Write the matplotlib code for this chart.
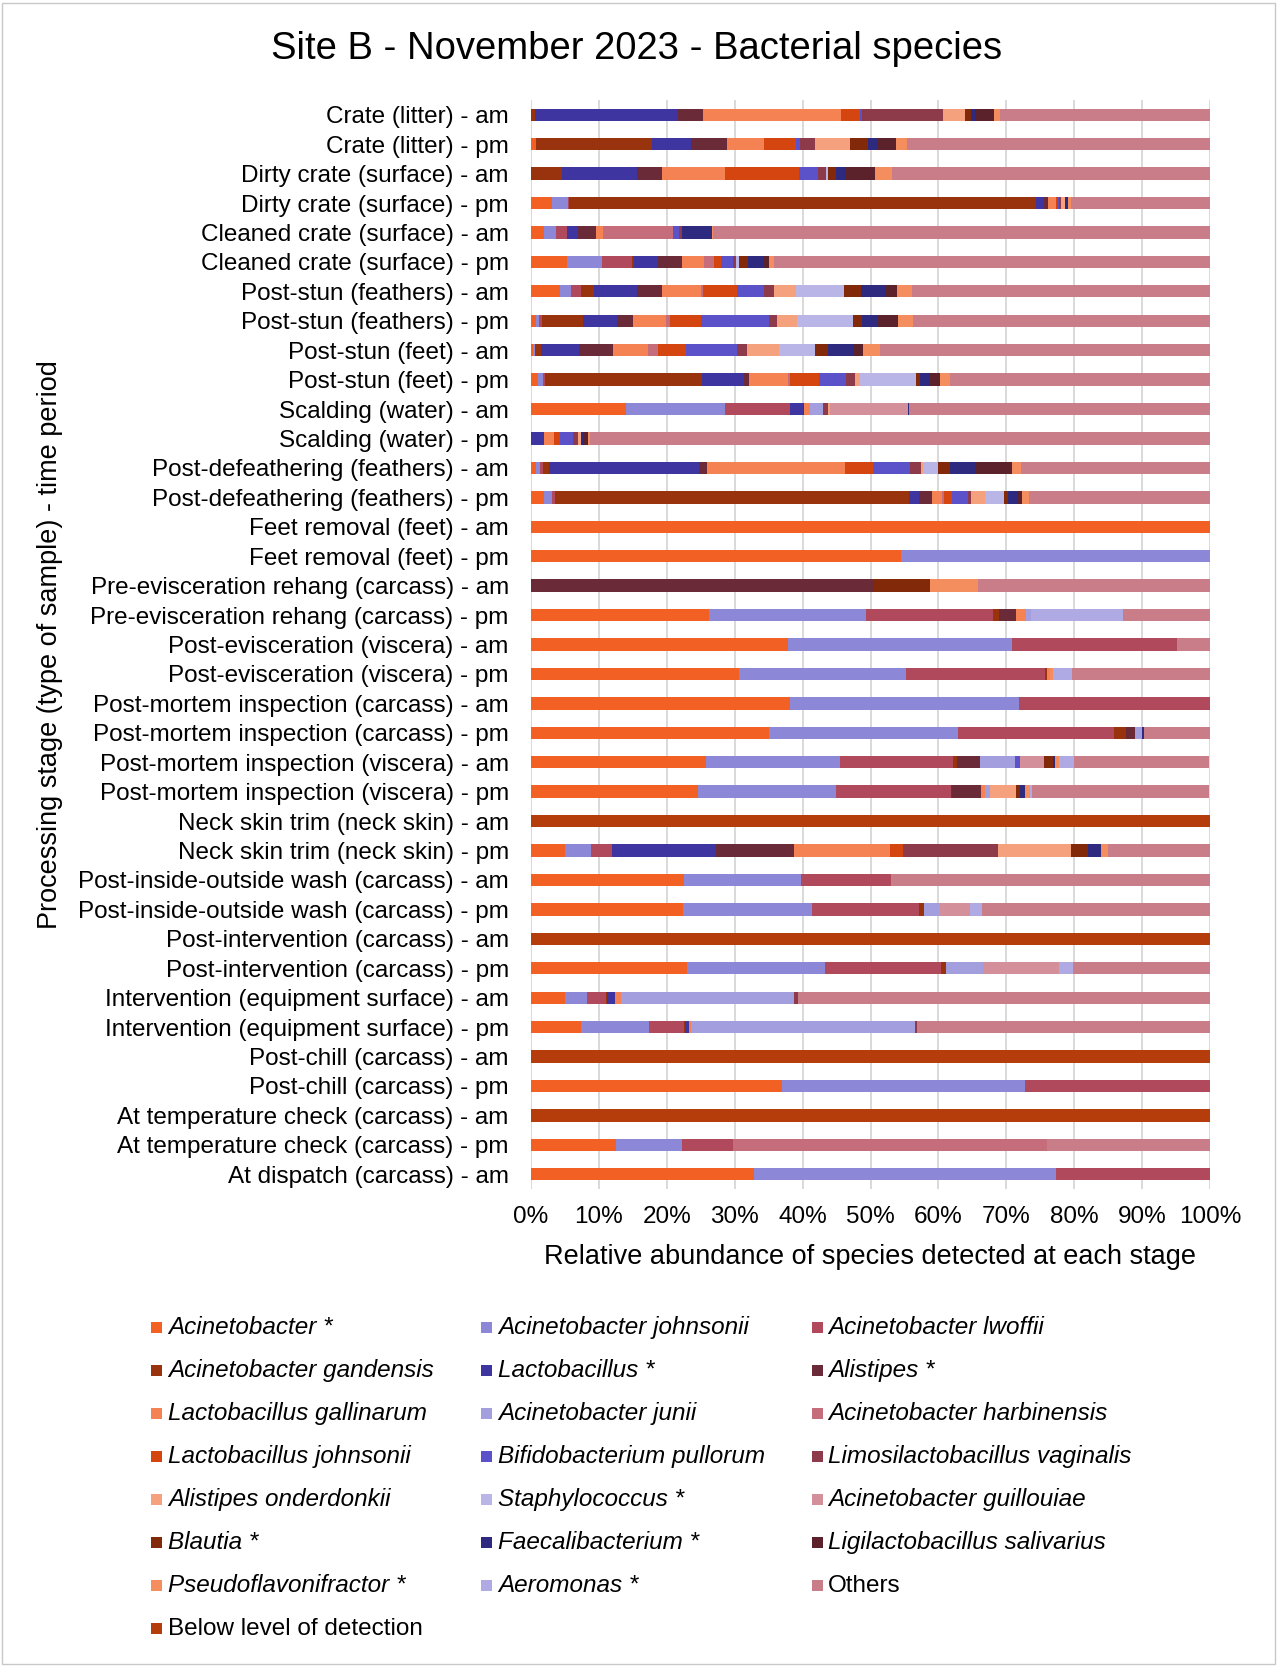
import numpy as np
import matplotlib
matplotlib.use("Agg")
import matplotlib.pyplot as plt
from matplotlib.patches import Rectangle

plt.rcParams['font.family'] = ['Liberation Sans', 'DejaVu Sans']

categories = [
    "Crate (litter) - am", "Crate (litter) - pm",
    "Dirty crate (surface) - am", "Dirty crate (surface) - pm",
    "Cleaned crate (surface) - am", "Cleaned crate (surface) - pm",
    "Post-stun (feathers) - am", "Post-stun (feathers) - pm",
    "Post-stun (feet) - am", "Post-stun (feet) - pm",
    "Scalding (water) - am", "Scalding (water) - pm",
    "Post-defeathering (feathers) - am", "Post-defeathering (feathers) - pm",
    "Feet removal (feet) - am", "Feet removal (feet) - pm",
    "Pre-evisceration rehang (carcass) - am", "Pre-evisceration rehang (carcass) - pm",
    "Post-evisceration (viscera) - am", "Post-evisceration (viscera) - pm",
    "Post-mortem inspection (carcass) - am", "Post-mortem inspection (carcass) - pm",
    "Post-mortem inspection (viscera) - am", "Post-mortem inspection (viscera) - pm",
    "Neck skin trim (neck skin) - am", "Neck skin trim (neck skin) - pm",
    "Post-inside-outside wash (carcass) - am", "Post-inside-outside wash (carcass) - pm",
    "Post-intervention (carcass) - am", "Post-intervention (carcass) - pm",
    "Intervention (equipment surface) - am", "Intervention (equipment surface) - pm",
    "Post-chill (carcass) - am", "Post-chill (carcass) - pm",
    "At temperature check (carcass) - am", "At temperature check (carcass) - pm",
    "At dispatch (carcass) - am",
]

# values per series, one per row (same order as categories), in %
acinetobacter = [0, 0.8, 0, 3.1, 1.85, 5.3, 4.3, 0.8, 0.35, 1.0, 13.95, 0, 0.8, 1.85, 100, 54.5, 0, 26.2, 37.8, 30.65,
                 38.2, 35.0, 25.8, 24.6, 0, 4.95, 22.5, 22.45, 0, 22.95, 5.0, 7.35, 0, 36.95, 0, 12.5, 32.8]
a_johnsonii = [0, 0, 0, 2.3, 1.9, 5.1, 1.65, 0.4, 0.3, 0.8, 14.6, 0, 0.5, 1.25, 0, 45.5, 0, 23.15, 33.0, 24.55,
               33.6, 27.95, 19.65, 20.3, 0, 3.9, 17.25, 18.95, 0, 20.4, 3.3, 10.05, 0, 35.85, 0, 9.75, 44.55]
a_lwoffii = [0, 0, 0, 0.26, 1.5, 4.5, 1.45, 0.45, 0, 0.3, 9.55, 0, 0.5, 0.4, 0, 0, 0, 18.75, 24.4, 20.45,
             28.2, 22.9, 16.65, 16.9, 0, 3.15, 13.2, 15.8, 0, 17.0, 2.75, 5.15, 0, 27.2, 0, 7.5, 22.65]
a_gandensis = [0.66, 17.0, 4.6, 68.75, 0, 0.25, 1.85, 6.0, 0.85, 23.15, 0, 0, 0.85, 52.1, 0, 0, 0, 0.85, 0, 0.35,
               0, 1.8, 0.6, 0, 0, 0, 0, 0.65, 0, 0.8, 0.15, 0.2, 0, 0, 0, 0, 0]
lactobacillus = [21.05, 5.7, 11.0, 1.1, 1.7, 3.5, 6.4, 5.05, 5.6, 6.1, 1.95, 1.85, 22.1, 1.5, 0, 0, 0, 0, 0, 0,
                 0, 0, 0, 0.25, 0, 15.3, 0, 0, 0, 0, 1.2, 0.5, 0, 0, 0, 0, 0]
alistipes = [3.6, 5.3, 3.7, 0.7, 2.6, 3.55, 3.6, 2.35, 4.95, 0.8, 0.2, 0, 1.1, 2.0, 0, 0, 50.5, 2.5, 0, 0,
             0, 1.3, 3.4, 4.2, 0, 11.45, 0, 0, 0, 0, 0, 0, 0, 0, 0, 0, 0]
l_gallinarum = [20.3, 5.5, 9.2, 1.05, 1.0, 3.3, 5.85, 4.8, 5.25, 5.65, 0.85, 1.6, 20.45, 1.45, 0, 0, 0, 1.45, 0, 0.5,
                0, 0, 0, 0.6, 0, 14.1, 0, 0, 0, 0, 0.8, 0.3, 0, 0, 0, 0, 0]
a_junii = [0, 0, 0, 0, 0, 0, 0, 0, 0, 0, 1.85, 0, 0, 0, 0, 0, 0, 0.8, 0, 0,
           0, 1.1, 5.25, 0.7, 0, 0, 0, 2.45, 0, 5.4, 25.6, 32.95, 0, 0, 0, 0, 0]
a_harbinensis = [0, 0, 0, 0, 10.4, 1.45, 0.25, 0.6, 1.4, 0.4, 0, 0, 0, 0.3, 0, 0, 0, 0, 0, 0,
                 0, 0, 0, 0, 0, 0, 0, 0, 0, 0, 0, 0, 0, 0, 0, 46.25, 0]
l_johnsonii = [2.9, 4.8, 11.0, 0.25, 0, 1.0, 4.95, 4.6, 4.15, 4.2, 0, 0.85, 4.1, 1.2, 0, 0, 0, 0, 0, 0,
               0, 0, 0, 0, 0, 1.95, 0, 0, 0, 0, 0, 0, 0, 0, 0, 0, 0]
b_pullorum = [0.2, 0.5, 2.7, 0.25, 0.8, 1.85, 4.0, 9.95, 7.5, 3.95, 0, 1.85, 5.4, 2.3, 0, 0, 0, 0, 0, 0,
              0, 0, 0.65, 0, 0, 0, 0, 0, 0, 0, 0, 0, 0, 0, 0, 0, 0]
l_vaginalis = [12.0, 2.2, 1.3, 0.25, 0.5, 0.4, 1.45, 1.3, 1.4, 1.3, 0.8, 0.8, 1.6, 0.45, 0, 0, 0, 0, 0, 0,
               0, 0, 0, 0, 0, 13.95, 0, 0, 0, 0, 0.5, 0.3, 0, 0, 0, 0, 0]
a_onderdonkii = [3.2, 5.2, 0, 0.65, 0, 0, 3.35, 2.85, 4.75, 0.8, 0.3, 0.4, 0.3, 2.0, 0, 0, 0, 0, 0, 0,
                 0, 0, 0, 3.9, 0, 10.85, 0, 0, 0, 0, 0, 0, 0, 0, 0, 0, 0]
staphylococcus = [0, 0, 0.3, 0, 0, 0.4, 7.05, 8.3, 5.3, 8.2, 0, 0, 2.25, 2.8, 0, 0, 0, 0, 0, 0,
                  0, 0, 0, 0, 0, 0, 0, 0, 0, 0, 0, 0, 0, 0, 0, 0, 0]
a_guillouiae = [0, 0, 0, 0, 0, 0, 0, 0, 0, 0, 11.45, 0, 0, 0, 0, 0, 0, 0, 0, 0,
                0, 0, 3.6, 0, 0, 0, 0, 4.3, 0, 11.2, 0, 0, 0, 0, 0, 0, 0]
blautia = [0.9, 2.6, 1.1, 0, 0, 1.4, 2.5, 1.3, 2.0, 0.7, 0, 0, 1.7, 0.7, 0, 0, 8.2, 0, 0, 0,
           0, 0, 1.3, 0.5, 0, 2.5, 0, 0, 0, 0, 0, 0, 0, 0, 0, 0, 0]
faecalibacterium = [0.65, 1.3, 1.3, 0.5, 4.4, 2.1, 3.5, 2.35, 3.55, 1.25, 0.15, 0.25, 3.75, 1.4, 0, 0, 0, 0, 0, 0,
                    0, 0.25, 0.3, 0.8, 0, 1.8, 0, 0, 0, 0, 0, 0, 0, 0, 0, 0, 0]
l_salivarius = [2.75, 2.9, 4.5, 0, 0, 0.9, 1.8, 2.9, 1.5, 1.65, 0, 0.8, 5.5, 0.65, 0, 0, 0, 0, 0, 0,
                0, 0, 0, 0, 0, 0, 0, 0, 0, 0, 0, 0, 0, 0, 0, 0, 0]
pseudoflavonifractor = [0.8, 1.6, 2.4, 0.3, 0.2, 0.85, 2.1, 2.25, 2.55, 1.45, 0, 0.25, 1.2, 1.0, 0, 0, 7.15, 0, 0, 0.45,
                        0, 0, 0.5, 0.7, 0, 1.1, 0, 0, 0, 0, 0, 0, 0, 0, 0, 0, 0]
aeromonas = [0, 0, 0, 0, 0, 0, 0, 0, 0, 0, 0, 0, 0, 0, 0, 0, 0, 13.5, 0, 2.7,
             0, 0, 2.3, 0.35, 0, 0, 0, 1.85, 0, 2.0, 0, 0, 0, 0, 0, 0, 0]
others = [31.0, 44.6, 46.9, 20.55, 73.15, 64.15, 43.95, 43.75, 48.6, 38.3, 44.35, 91.35, 27.9, 26.65, 0, 0, 34.15, 12.8, 4.8, 20.3,
          0, 9.7, 19.85, 26.1, 0, 15.0, 47.05, 33.6, 0, 20.3, 60.7, 43.2, 0, 0, 0, 24.0, 0]
below_lod = [0, 0, 0, 0, 0, 0, 0, 0, 0, 0, 0, 0, 0, 0, 0, 0, 0, 0, 0, 0,
             0, 0, 0, 0, 100, 0, 0, 0, 100, 0, 0, 0, 100, 0, 100, 0, 0]

series_names = [
    "Acinetobacter *", "Acinetobacter johnsonii", "Acinetobacter lwoffii",
    "Acinetobacter gandensis", "Lactobacillus *", "Alistipes *",
    "Lactobacillus gallinarum", "Acinetobacter junii", "Acinetobacter harbinensis",
    "Lactobacillus johnsonii", "Bifidobacterium pullorum", "Limosilactobacillus vaginalis",
    "Alistipes onderdonkii", "Staphylococcus *", "Acinetobacter guillouiae",
    "Blautia *", "Faecalibacterium *", "Ligilactobacillus salivarius",
    "Pseudoflavonifractor *", "Aeromonas *", "Others",
    "Below level of detection",
]
series_values = [
    acinetobacter, a_johnsonii, a_lwoffii, a_gandensis, lactobacillus, alistipes,
    l_gallinarum, a_junii, a_harbinensis, l_johnsonii, b_pullorum, l_vaginalis,
    a_onderdonkii, staphylococcus, a_guillouiae, blautia, faecalibacterium, l_salivarius,
    pseudoflavonifractor, aeromonas, others, below_lod,
]
series_colors = [
    "#F26024", "#8D87D7", "#B0495C",
    "#98330D", "#3E35A0", "#6B2A38",
    "#F48253", "#A39FDF", "#C56D7A",
    "#D4450F", "#5B52C9", "#8D3A4B",
    "#F6A17D", "#B9B6E7", "#D4909A",
    "#82290A", "#2E2A80", "#5B222B",
    "#F58E5E", "#AFAAE4", "#C97D89",
    "#B53D0C",
]
non_italic = {"Others", "Below level of detection"}

W, H = 1277, 1667
fig = plt.figure(figsize=(W / 100, H / 100), dpi=100)
ax = fig.add_axes([531 / W, 1 - 1189 / H, (1210 - 531) / W, (1189 - 100) / H])

y = np.arange(len(categories))
left = np.zeros(len(categories))
for vals, color in zip(series_values, series_colors):
    v = np.array(vals, dtype=float)
    ax.barh(y, v, left=left, height=0.42, color=color, linewidth=0, zorder=2)
    left += v

ax.set_xlim(0, 100)
ax.set_ylim(len(categories) - 0.5, -0.5)
ax.set_yticks(y)
ax.set_yticklabels(categories, fontsize=17.5)
ax.set_xticks(np.arange(0, 101, 10))
ax.set_xticklabels([f"{v}%" for v in range(0, 101, 10)], fontsize=17.5)
ax.tick_params(axis='both', length=0)
ax.tick_params(axis='y', pad=16)
ax.tick_params(axis='x', pad=12)
ax.grid(axis='x', color='#D9D9D9', linewidth=1.4, zorder=0)
ax.set_axisbelow(True)
for s in ax.spines.values():
    s.set_visible(False)

ax.set_xlabel("Relative abundance of species detected at each stage", fontsize=19.5)
ax.xaxis.set_label_coords(0.5, (1189 - 1257) / 1089)
ax.xaxis.label.set_va('center')
ax.set_ylabel("Processing stage (type of sample) - time period", fontsize=19.5)
ax.yaxis.set_label_coords((50 - 531) / 679, 0.5)
ax.yaxis.label.set_va('center')

fig.text(637 / W, 1 - 49 / H, "Site B - November 2023 - Bacterial species",
         ha='center', va='center', fontsize=27.5)

# legend (row-major, 3 columns)
col_sq = [151, 481, 812]
col_tx = [168, 498, 828]
row0, drow = 1327, 43.1
sq = 11
for i, (name, color) in enumerate(zip(series_names, series_colors)):
    r, c = divmod(i, 3)
    yc = row0 + r * drow
    fig.patches.append(Rectangle((col_sq[c] / W, 1 - (yc + sq / 2) / H), sq / W, sq / H,
                                 transform=fig.transFigure, facecolor=color, edgecolor='none'))
    fig.text(col_tx[c] / W, 1 - yc / H, name, ha='left', va='center', fontsize=17.5,
             style='normal' if name in non_italic else 'italic')

fig.patches.append(Rectangle((0.0015, 0.0015), 0.997, 0.997, transform=fig.transFigure,
                             fill=False, edgecolor='#C8C8C8', linewidth=1))

fig.savefig("out.png", dpi=100)
